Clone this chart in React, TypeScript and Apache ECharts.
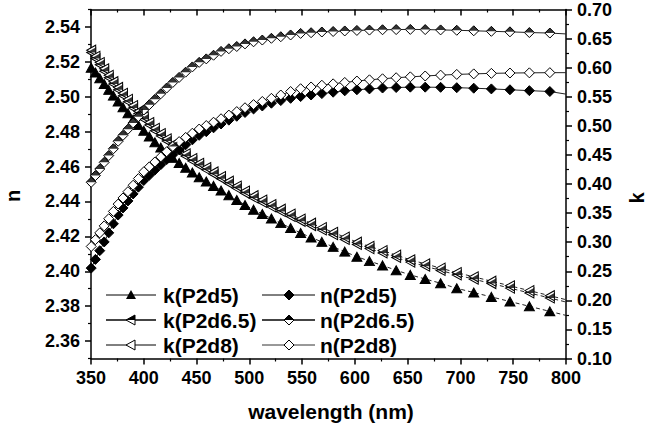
import React, { useEffect, useRef } from "react";
import * as echarts from "echarts";

// wavelength (nm) of the measured points
const WL = [
  350.2, 354.2, 358.3, 362.5, 366.8, 371.2, 375.7, 380.3, 385.0, 389.9,
  394.9, 400.0, 405.2, 410.5, 416.1, 421.7, 427.5, 433.5, 439.7, 446.0,
  452.5, 459.2, 466.1, 473.2, 480.6, 488.1, 495.9, 504.0, 512.3, 520.9,
  529.8, 539.1, 548.6, 558.5, 568.7, 579.4, 590.4, 601.9, 613.8, 626.2,
  639.1, 652.5, 666.6, 681.2, 696.5, 712.6, 729.3, 746.9, 765.3, 784.7,
];

const N_P2D5 = [
  2.4018, 2.4068, 2.4118, 2.4168, 2.422, 2.4272, 2.4322, 2.4363, 2.4403, 2.4443,
  2.4482, 2.452, 2.455, 2.458, 2.4611, 2.464, 2.4668, 2.4696, 2.4725, 2.4753,
  2.4779, 2.48, 2.4822, 2.4844, 2.4866, 2.4888, 2.491, 2.493, 2.4947, 2.4963,
  2.4978, 2.4991, 2.5001, 2.501, 2.5018, 2.5026, 2.5034, 2.504, 2.5045, 2.505,
  2.5053, 2.5055, 2.5055, 2.5054, 2.5052, 2.5049, 2.5045, 2.504, 2.5035, 2.503,
];
const N_P2D65 = [
  2.451, 2.4548, 2.4586, 2.4624, 2.4663, 2.4702, 2.4745, 2.4779, 2.4814, 2.485,
  2.4886, 2.4924, 2.4954, 2.4985, 2.5017, 2.505, 2.5082, 2.5111, 2.5141, 2.5171,
  2.5197, 2.5217, 2.5238, 2.526, 2.5275, 2.5288, 2.5303, 2.5315, 2.5325, 2.5335,
  2.5344, 2.5354, 2.5363, 2.5367, 2.5371, 2.5374, 2.5377, 2.538, 2.5382, 2.5384,
  2.5385, 2.5386, 2.5385, 2.5383, 2.5381, 2.5378, 2.5375, 2.5372, 2.5368, 2.5365,
];
const N_P2D8 = [
  2.4142, 2.4181, 2.422, 2.426, 2.4301, 2.4343, 2.4385, 2.442, 2.4456, 2.4493,
  2.4531, 2.457, 2.4598, 2.4626, 2.4655, 2.4685, 2.4715, 2.4743, 2.4767, 2.4791,
  2.4815, 2.4835, 2.4854, 2.4874, 2.4895, 2.4915, 2.4937, 2.4955, 2.4973, 2.4991,
  2.501, 2.503, 2.5046, 2.5056, 2.5066, 2.5074, 2.5082, 2.509, 2.5097, 2.5103,
  2.5109, 2.5114, 2.5119, 2.5124, 2.5128, 2.5131, 2.5134, 2.5136, 2.5137, 2.5138,
];
const K_P2D5 = [
  0.6, 0.5916, 0.5819, 0.572, 0.5618, 0.5519, 0.542, 0.5319, 0.5215, 0.5107,
  0.5012, 0.4915, 0.4816, 0.4717, 0.4627, 0.4538, 0.4445, 0.436, 0.4279, 0.4197,
  0.4117, 0.4043, 0.3967, 0.3889, 0.3808, 0.3725, 0.364, 0.3559, 0.3484, 0.3407,
  0.3327, 0.3243, 0.3158, 0.3081, 0.3005, 0.2919, 0.2837, 0.275, 0.2674, 0.26,
  0.2517, 0.2437, 0.2367, 0.2294, 0.2207, 0.2134, 0.2059, 0.198, 0.1897, 0.181,
];
const K_P2D65 = [
  0.626, 0.6156, 0.6049, 0.594, 0.5828, 0.5719, 0.562, 0.5519, 0.5415, 0.5307,
  0.5212, 0.5115, 0.5016, 0.4917, 0.4827, 0.4738, 0.4645, 0.456, 0.4479, 0.4397,
  0.4317, 0.4243, 0.4167, 0.4089, 0.4008, 0.3925, 0.384, 0.3759, 0.3684, 0.3607,
  0.3527, 0.3443, 0.3358, 0.3286, 0.321, 0.3129, 0.3047, 0.296, 0.2889, 0.2815,
  0.2737, 0.2657, 0.2587, 0.2514, 0.2437, 0.2364, 0.2289, 0.221, 0.2127, 0.204,
];
const K_P2D8 = [
  0.63, 0.6196, 0.6089, 0.598, 0.5868, 0.5759, 0.566, 0.5559, 0.5455, 0.5347,
  0.5252, 0.5155, 0.5056, 0.4957, 0.4867, 0.4778, 0.4685, 0.46, 0.4519, 0.4437,
  0.4357, 0.4283, 0.4207, 0.4129, 0.4048, 0.3965, 0.388, 0.3799, 0.3724, 0.3647,
  0.3567, 0.3483, 0.3398, 0.3326, 0.325, 0.3169, 0.3087, 0.3, 0.2929, 0.2855,
  0.2777, 0.2697, 0.2627, 0.2554, 0.2477, 0.2404, 0.2329, 0.225, 0.2167, 0.208,
];

// where the fitted lines end, at 800 nm
const LINE_END_WL = 800;
const N_END = { p5: 2.5015, p65: 2.536, p8: 2.5138 };
const K_END = { p5: 0.1741, p65: 0.1971, p8: 0.2011 };

const N_TICKS = [2.36, 2.38, 2.4, 2.42, 2.44, 2.46, 2.48, 2.5, 2.52, 2.54];
const LEGEND_LABELS = ["k(P2d5)", "k(P2d6.5)", "k(P2d8)", "n(P2d5)", "n(P2d6.5)", "n(P2d8)"];

const FONT = "'Liberation Sans', Arial, sans-serif";

const TRI_LEFT = "path://M0,5 L9,0 L9,10 Z";
const TRI_LEFT_TOP = "path://M0,5 L9,0 L9,5 Z";
const DIA_TOP = "path://M0,5 L5,0 L10,5 Z";

export default function App() {
  const ref = useRef<HTMLDivElement>(null);
  useEffect(() => {
    if (!ref.current) return;
    const chart = echarts.init(ref.current, undefined, { renderer: "svg" });

    const withEnd = (arr: number[], end: number) => [
      ...WL.map((x, i) => [x, arr[i]]),
      { value: [LINE_END_WL, end], symbol: "none" },
    ];
    const pts = (arr: number[]) => WL.map((x, i) => [x, arr[i]]);

    const line = (
      name: string,
      arr: number[],
      end: number,
      yAxisIndex: number,
      symbol: string,
      symbolSize: number[],
      fill: string,
      dashed: boolean,
      lc: string,
      lw: number,
      z: number
    ) => ({
      name,
      type: "line",
      xAxisIndex: 0,
      yAxisIndex,
      data: withEnd(arr, end),
      symbol,
      symbolSize,
      showAllSymbol: true,
      z,
      lineStyle: { color: lc, width: lw, type: dashed ? [4, 3] : "solid" },
      itemStyle: { color: fill, borderColor: "#000", borderWidth: 1 },
      emphasis: { disabled: true },
    });

    const half = (arr: number[], yAxisIndex: number, symbol: string, size: number[], z: number) => ({
      type: "scatter",
      xAxisIndex: 0,
      yAxisIndex,
      data: pts(arr),
      symbol,
      symbolSize: size,
      symbolOffset: [0, -size[1] / 2],
      z,
      itemStyle: { color: "#000" },
      emphasis: { disabled: true },
    });

    const axisFont = { fontFamily: FONT, fontWeight: "bold", fontSize: 18, color: "#000" };

    // legend graphics
    const legendRows = [295, 320, 345];
    const cols = [{ x1: 106, x2: 156, mx: 131, tx: 163 }, { x1: 262, x2: 315, mx: 289, tx: 320 }];
    const g: any[] = [];
    const lineCols = ["#000", "#444", "#000", "#000", "#444", "#333"];
    const lineWs = [1, 2, 1, 1, 2, 1];
    for (let c = 0; c < 2; c++) {
      for (let r = 0; r < 3; r++) {
        const idx = c * 3 + r;
        const y = legendRows[r];
        const col = cols[c];
        g.push({ type: "line", shape: { x1: col.x1, y1: y, x2: col.x2, y2: y }, style: { stroke: lineCols[idx], lineWidth: lineWs[idx] } });
        const mx = col.mx;
        if (idx === 0) {
          g.push({ type: "polygon", shape: { points: [[mx, y - 5], [mx + 5, y + 4], [mx - 5, y + 4]] }, style: { fill: "#000" } });
        } else if (idx === 1 || idx === 2) {
          g.push({ type: "polygon", shape: { points: [[mx - 5, y], [mx + 4, y - 5], [mx + 4, y + 5]] }, style: { fill: "#fff", stroke: "#000", lineWidth: 1 } });
          if (idx === 1) g.push({ type: "polygon", shape: { points: [[mx - 5, y], [mx + 4, y - 5], [mx + 4, y]] }, style: { fill: "#000" } });
        } else {
          const dia = [[mx, y - 5], [mx + 5, y], [mx, y + 5], [mx - 5, y]];
          g.push({ type: "polygon", shape: { points: dia }, style: { fill: idx === 3 ? "#000" : "#fff", stroke: "#000", lineWidth: 1 } });
          if (idx === 4) g.push({ type: "polygon", shape: { points: [[mx, y - 5], [mx + 5, y], [mx - 5, y]] }, style: { fill: "#000" } });
        }
        g.push({
          type: "text",
          x: col.tx,
          y,
          style: { text: LEGEND_LABELS[idx], font: `bold 21px ${FONT}`, fill: "#000", textVerticalAlign: "middle", textAlign: "left" },
        });
      }
    }
    g.push({ type: "text", x: 13, y: 196, rotation: Math.PI / 2, style: { text: "n", font: `bold 20px ${FONT}`, fill: "#000", textAlign: "center", textVerticalAlign: "middle" } });
    g.push({ type: "text", x: 637, y: 198, rotation: Math.PI / 2, style: { text: "k", font: `bold 20px ${FONT}`, fill: "#000", textAlign: "center", textVerticalAlign: "middle" } });
    g.push({ type: "text", x: 331, y: 411, style: { text: "wavelength (nm)", font: `bold 21px ${FONT}`, fill: "#000", textAlign: "center", textVerticalAlign: "middle" } });

    const grid = { left: 91, top: 9.5, width: 475, height: 349 };

    chart.setOption({
      animation: false,
      backgroundColor: "#fff",
      grid,
      xAxis: [
        {
          type: "value", position: "bottom", min: 350, max: 800, interval: 50,
          axisLine: { show: true, onZero: false, lineStyle: { color: "#000", width: 1.5 } },
          axisTick: { show: true, inside: false, length: 6, lineStyle: { color: "#000", width: 1.5 } },
          minorTick: { show: true, splitNumber: 2, length: 3, lineStyle: { color: "#000", width: 1.2 } },
          axisLabel: { ...axisFont, margin: 10 },
          splitLine: { show: false },
        },
        {
          type: "value", position: "top", min: 350, max: 800, interval: 50,
          axisLine: { show: true, onZero: false, lineStyle: { color: "#000", width: 1.5 } },
          axisTick: { show: true, inside: true, length: 6, lineStyle: { color: "#000", width: 1.5 } },
          minorTick: { show: true, splitNumber: 2, length: 3, lineStyle: { color: "#000", width: 1.2 } },
          axisLabel: { show: false },
          splitLine: { show: false },
        },
      ],
      yAxis: [
        {
          type: "value", position: "left", min: 2.35, max: 2.55, interval: 0.01,
          axisLine: { show: true, onZero: false, lineStyle: { color: "#000", width: 1.5 } },
          axisTick: { show: true, inside: false, length: 6, customValues: N_TICKS, lineStyle: { color: "#000", width: 1.5 } },
          axisLabel: { ...axisFont, margin: 11, customValues: N_TICKS, formatter: (v: number) => v.toFixed(2) },
          splitLine: { show: false },
        },
        {
          type: "value", position: "right", min: 0.1, max: 0.7, interval: 0.05,
          axisLine: { show: true, onZero: false, lineStyle: { color: "#000", width: 1.5 } },
          axisTick: { show: true, inside: false, length: 6, lineStyle: { color: "#000", width: 1.5 } },
          minorTick: { show: true, splitNumber: 2, length: 3, lineStyle: { color: "#000", width: 1.2 } },
          axisLabel: { ...axisFont, margin: 11, formatter: (v: number) => v.toFixed(2) },
          splitLine: { show: false },
        },
        {
          // minor ticks of the n axis (odd hundredths)
          type: "value", position: "left", min: 2.35, max: 2.55, interval: 0.02,
          axisLine: { show: false },
          axisTick: { show: true, inside: false, length: 3, lineStyle: { color: "#000", width: 1.2 } },
          axisLabel: { show: false },
          splitLine: { show: false },
        },
      ],
      graphic: g,
      series: [
        line("k(P2d5)", K_P2D5, K_END.p5, 1, "triangle", [10, 9], "#000", true, "#222", 1, 3),
        line("k(P2d6.5)", K_P2D65, K_END.p65, 1, TRI_LEFT, [9, 10], "#fff", true, "#222", 1, 3),
        half(K_P2D65, 1, TRI_LEFT_TOP, [9, 5], 4),
        line("k(P2d8)", K_P2D8, K_END.p8, 1, TRI_LEFT, [9, 10], "#fff", true, "#222", 1, 3),
        line("n(P2d5)", N_P2D5, N_END.p5, 0, "diamond", [10, 10], "#000", false, "#222", 1, 3),
        line("n(P2d6.5)", N_P2D65, N_END.p65, 0, "diamond", [10, 10], "#fff", false, "#222", 1, 3),
        half(N_P2D65, 0, DIA_TOP, [10, 5], 4),
        line("n(P2d8)", N_P2D8, N_END.p8, 0, "diamond", [10, 10], "#fff", false, "#222", 1, 3),
      ],
    });
    return () => chart.dispose();
  }, []);
  return <div ref={ref} style={{ position: "fixed", left: 0, top: 0, width: 649, height: 431, background: "#fff" }} />;
}
